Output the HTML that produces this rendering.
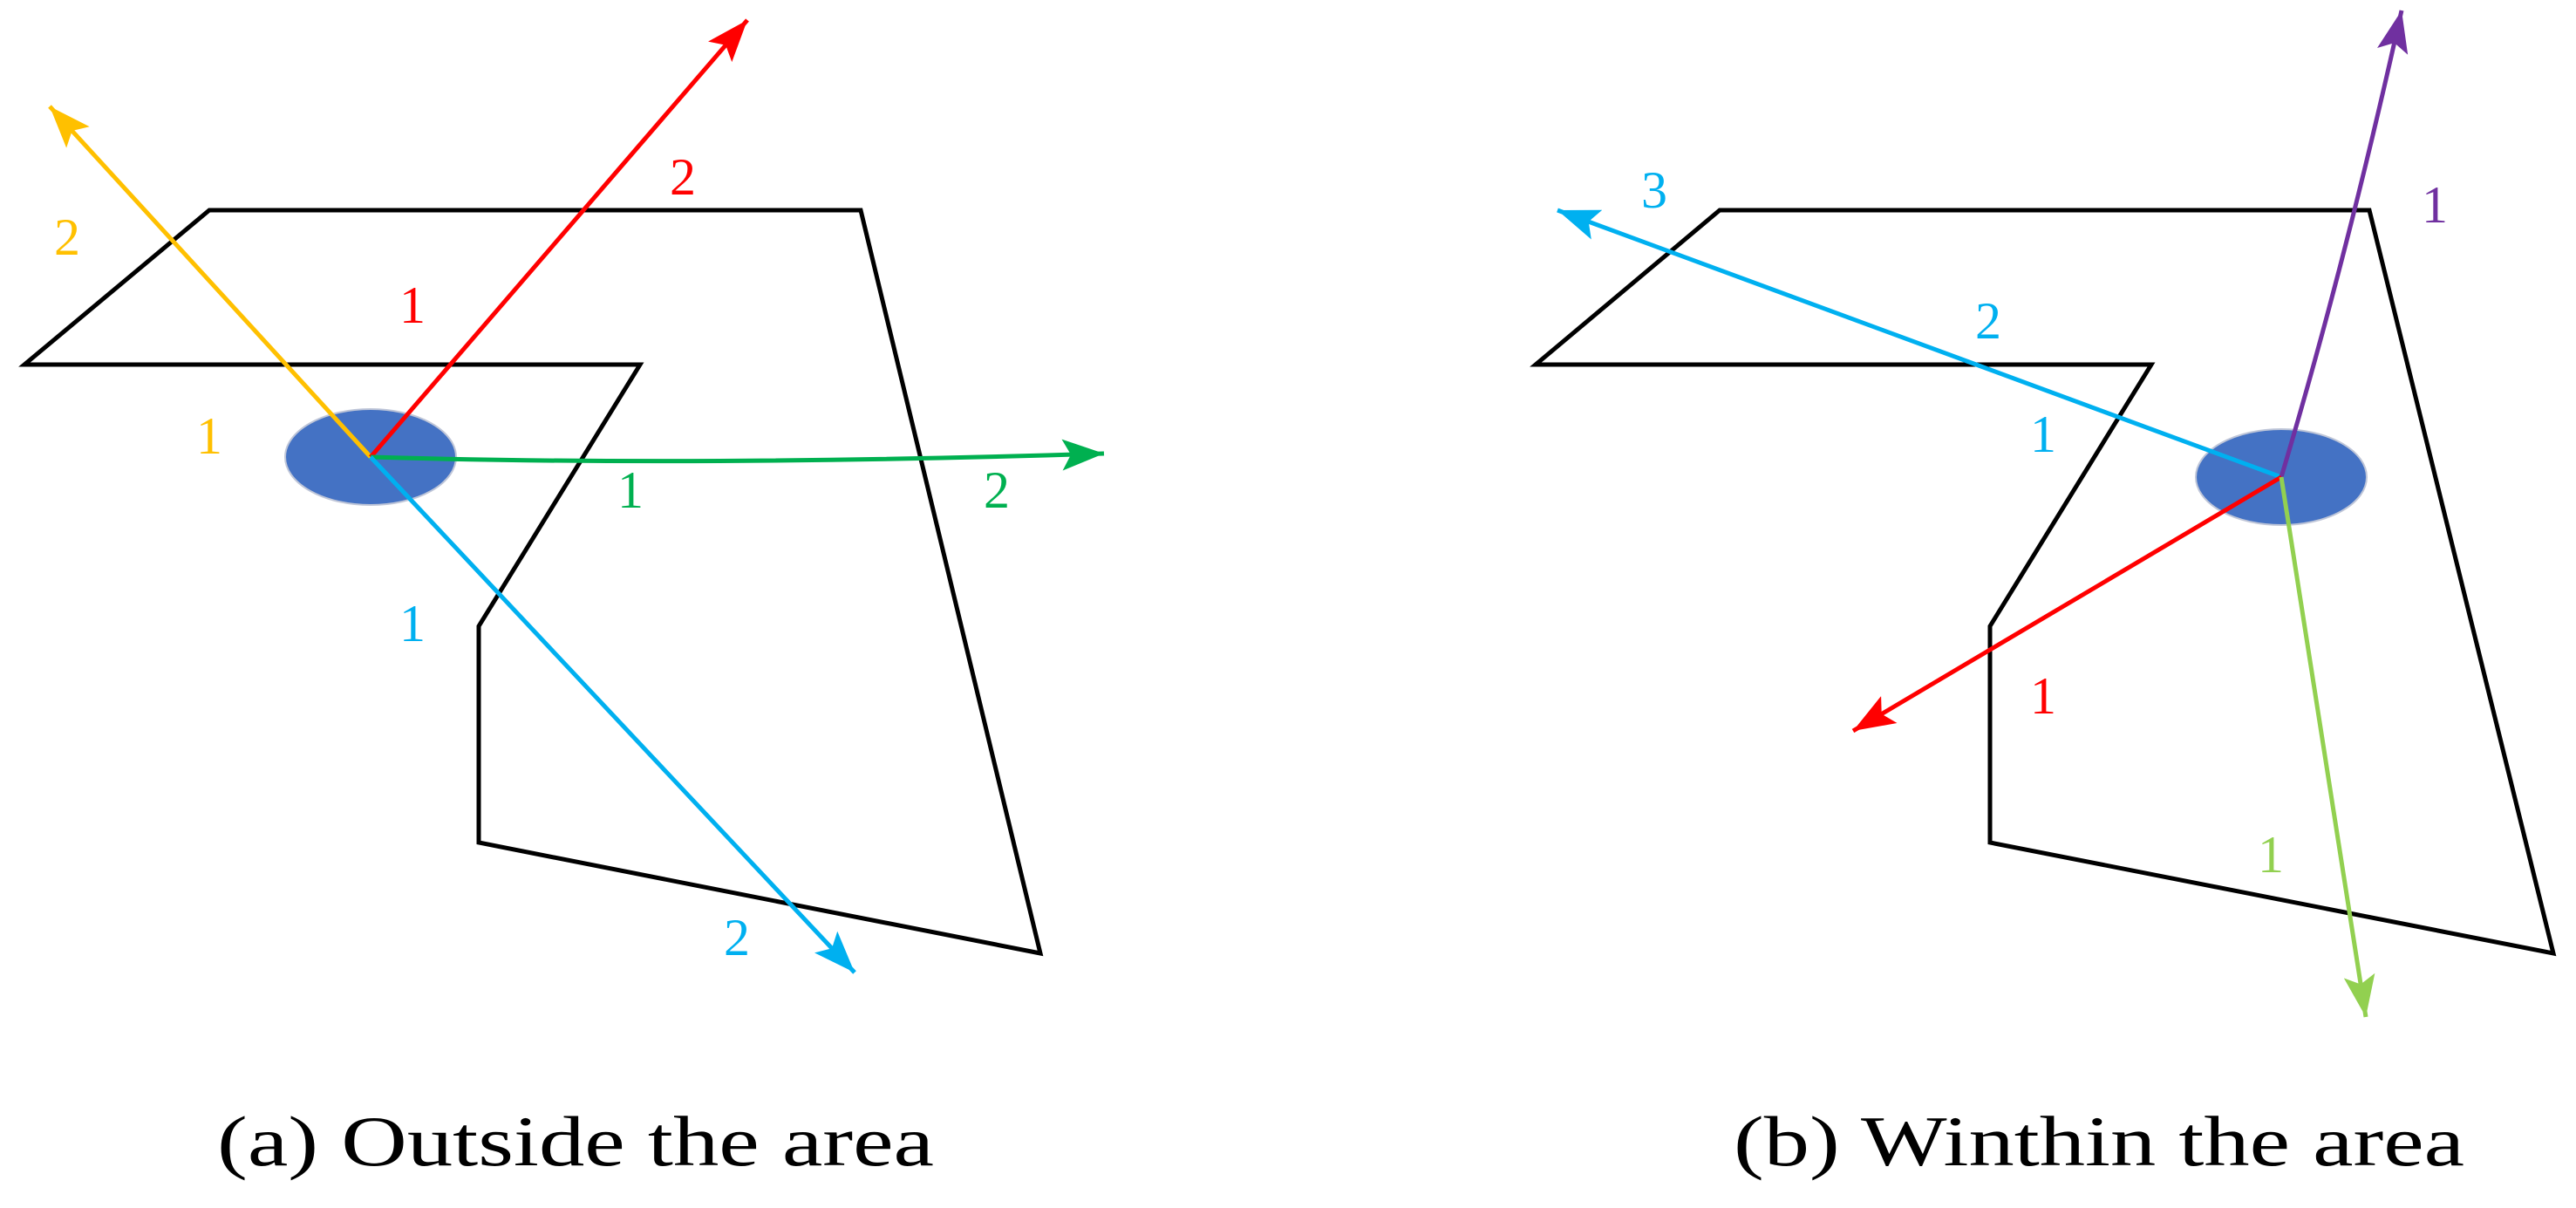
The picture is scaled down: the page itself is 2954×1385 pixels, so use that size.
<!DOCTYPE html>
<html><head><meta charset="utf-8"><style>html,body{margin:0;padding:0;background:#fff}svg{display:block}</style></head><body>
<svg width="2954" height="1385" viewBox="0 0 2954 1385" xmlns="http://www.w3.org/2000/svg">
<defs>
<marker id="m1" viewBox="0 0 48 36" refX="48" refY="18" markerWidth="48" markerHeight="36" markerUnits="userSpaceOnUse" orient="auto"><path d="M0,0L48,18L0,36L10,18z" fill="#FFC000"/></marker>
<marker id="m2" viewBox="0 0 48 36" refX="48" refY="18" markerWidth="48" markerHeight="36" markerUnits="userSpaceOnUse" orient="auto"><path d="M0,0L48,18L0,36L10,18z" fill="#FF0000"/></marker>
<marker id="m3" viewBox="0 0 48 36" refX="48" refY="18" markerWidth="48" markerHeight="36" markerUnits="userSpaceOnUse" orient="auto"><path d="M0,0L48,18L0,36L10,18z" fill="#00B050"/></marker>
<marker id="m4" viewBox="0 0 48 36" refX="48" refY="18" markerWidth="48" markerHeight="36" markerUnits="userSpaceOnUse" orient="auto"><path d="M0,0L48,18L0,36L10,18z" fill="#00B0F0"/></marker>
<marker id="m5" viewBox="0 0 48 36" refX="48" refY="18" markerWidth="48" markerHeight="36" markerUnits="userSpaceOnUse" orient="auto"><path d="M0,0L48,18L0,36L10,18z" fill="#7030A0"/></marker>
<marker id="m6" viewBox="0 0 48 36" refX="48" refY="18" markerWidth="48" markerHeight="36" markerUnits="userSpaceOnUse" orient="auto"><path d="M0,0L48,18L0,36L10,18z" fill="#92D050"/></marker>
</defs>
<g fill="none" stroke="#000" stroke-width="5">
<polygon points="240,241 987,241 1193,1093 549,966 549,718 734,418 28,418"/>
<polygon points="1972,241 2717,241 2928,1093 2282,966 2282,718 2467,418 1761,418"/>
</g>
<ellipse cx="425" cy="524" rx="98" ry="55" fill="#4472C4" stroke="#bfc6d8" stroke-width="2"/>
<ellipse cx="2616" cy="547" rx="98" ry="55" fill="#4472C4" stroke="#bfc6d8" stroke-width="2"/>
<g stroke-width="5" fill="none">
<line x1="425" y1="524" x2="57" y2="122" stroke="#FFC000" marker-end="url(#m1)"/>
<line x1="425" y1="524" x2="857" y2="23" stroke="#FF0000" marker-end="url(#m2)"/>
<path d="M425,524 Q800,535 1266,520" stroke="#00B050" marker-end="url(#m3)"/>
<line x1="425" y1="524" x2="980" y2="1115" stroke="#00B0F0" marker-end="url(#m4)"/>
<line x1="2616" y1="547" x2="1786" y2="241" stroke="#00B0F0" marker-end="url(#m4)"/>
<path d="M2616,547 Q2690,300 2754,12" stroke="#7030A0" marker-end="url(#m5)"/>
<line x1="2616" y1="547" x2="2125" y2="838" stroke="#FF0000" marker-end="url(#m2)"/>
<line x1="2616" y1="547" x2="2713" y2="1166" stroke="#92D050" marker-end="url(#m6)"/>
</g>
<g font-family="'Liberation Serif','Times New Roman',serif" font-size="60" text-anchor="middle" dominant-baseline="central">
<text x="77" y="272" fill="#FFC000">2</text>
<text x="240" y="500" fill="#FFC000">1</text>
<text x="783" y="203" fill="#FF0000">2</text>
<text x="473" y="350" fill="#FF0000">1</text>
<text x="723" y="562" fill="#00B050">1</text>
<text x="1143" y="562" fill="#00B050">2</text>
<text x="473" y="715" fill="#00B0F0">1</text>
<text x="845" y="1075" fill="#00B0F0">2</text>
<text x="1897" y="218" fill="#00B0F0">3</text>
<text x="2280" y="368" fill="#00B0F0">2</text>
<text x="2343" y="498" fill="#00B0F0">1</text>
<text x="2792" y="235" fill="#7030A0">1</text>
<text x="2343" y="798" fill="#FF0000">1</text>
<text x="2604" y="980" fill="#92D050">1</text>
</g>
<g font-family="'Liberation Serif','Times New Roman',serif" font-size="82" fill="#000">
<text x="249" y="1336" textLength="822" lengthAdjust="spacingAndGlyphs">(a) Outside the area</text>
<text x="1988" y="1336" textLength="838" lengthAdjust="spacingAndGlyphs">(b) Winthin the area</text>
</g>
</svg>
</body></html>
